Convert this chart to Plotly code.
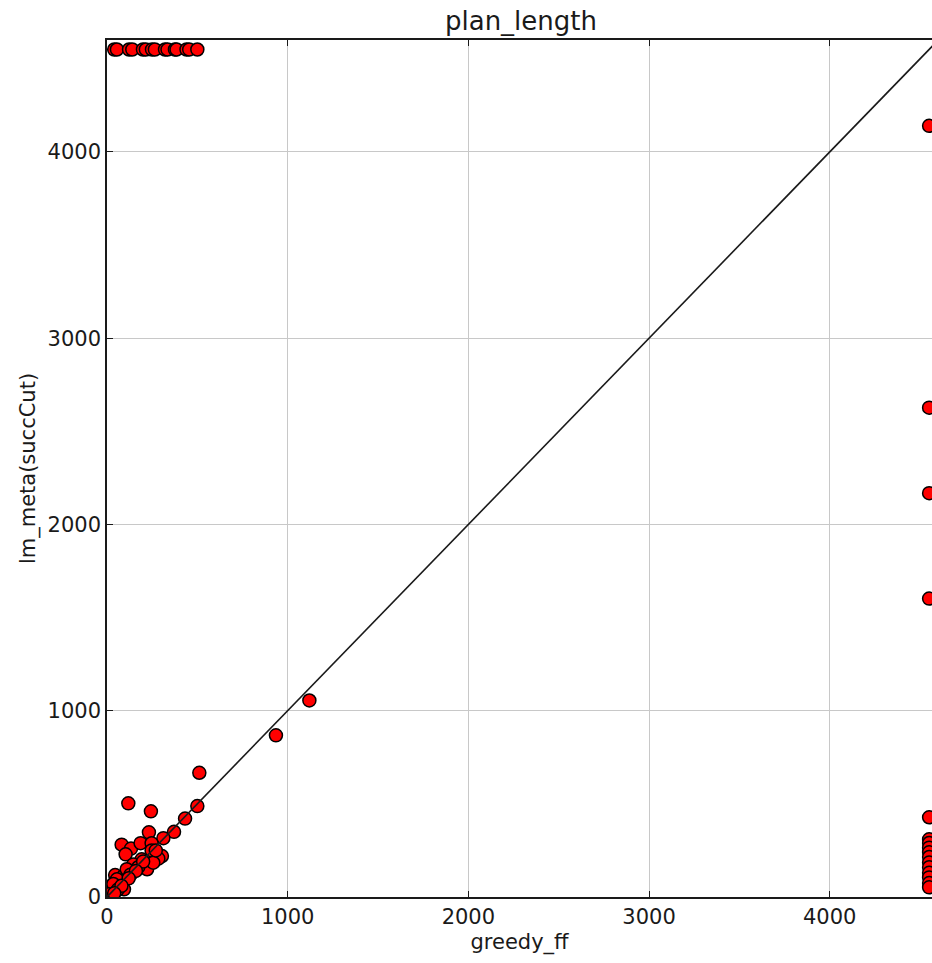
import plotly.graph_objects as go

# sentinel value used for unsolved instances (plotted at the border)
MISSING = 4550

# points where both planners found a plan
greedy_ff_both = [1120, 935, 511, 118, 243, 500, 432, 371, 232, 312, 81, 133, 186, 247,
                  304, 247, 103, 222, 150, 284, 192, 146, 256, 45, 90, 109, 72, 26, 20,
                  94, 55, 173, 35, 10, 60, 130, 200, 160, 270, 120, 80, 40]
lm_meta_both = [1055, 868, 667, 503, 460, 488, 421, 350, 347, 316, 281, 260, 289, 288,
                220, 250, 229, 149, 149, 206, 202, 175, 184, 118, 112, 149, 77, 50, 30,
                41, 95, 160, 70, 15, 40, 120, 190, 140, 250, 100, 60, 20]

# solved only by greedy_ff (lm_meta missing)
greedy_ff_only = [40, 55, 122, 140, 199, 215, 249, 265, 321, 335, 376, 385, 440, 455, 500]
# solved only by lm_meta (greedy_ff missing)
lm_meta_only = [4140, 2627, 2168, 1602, 428, 310, 290, 265, 240, 215, 185, 160, 130,
                105, 75, 52]

diag = [0, 5000]

xs = greedy_ff_both + greedy_ff_only + [MISSING] * len(lm_meta_only)
ys = lm_meta_both + [MISSING] * len(greedy_ff_only) + lm_meta_only

FONT = "DejaVu Sans"
INK = "#1a1a1a"

fig = go.Figure()
fig.add_trace(go.Scatter(
    x=xs, y=ys, mode="markers",
    marker=dict(size=13, color="#ff0000", line=dict(color="black", width=1.5)),
    showlegend=False,
))
fig.add_trace(go.Scatter(
    x=diag, y=diag, mode="lines",
    line=dict(color=INK, width=1.6),
    showlegend=False,
))

axis_common = dict(
    showgrid=True, gridcolor="#c8c8c8", gridwidth=1,
    zeroline=False,
    showline=True, linecolor=INK, linewidth=1.5,
    ticks="inside", ticklen=6, tickcolor=INK, tickwidth=1,
    tickvals=[0, 1000, 2000, 3000, 4000],
    tickfont=dict(family=FONT, size=21, color=INK),
)

fig.update_layout(
    width=932, height=963,
    margin=dict(l=107, r=0, t=40, b=66),
    paper_bgcolor="white", plot_bgcolor="white",
    title=dict(text="plan_length", x=0.559, xanchor="center",
               y=1 - 21 / 963, yanchor="middle", yref="container",
               font=dict(family=FONT, size=26, color=INK)),
    xaxis=dict(range=[0, 4566], mirror="ticks",
               title=dict(text="greedy_ff", standoff=6,
                          font=dict(family=FONT, size=21, color=INK)),
               **axis_common),
    yaxis=dict(range=[0, 4601],
               title=dict(text="lm_meta(succCut)", standoff=6,
                          font=dict(family=FONT, size=21, color=INK)),
               **axis_common),
)

fig.write_html(
    "out.html",
    config={"displayModeBar": False},
    post_script="document.body.style.margin='0px';document.body.style.overflow='hidden';",
)
